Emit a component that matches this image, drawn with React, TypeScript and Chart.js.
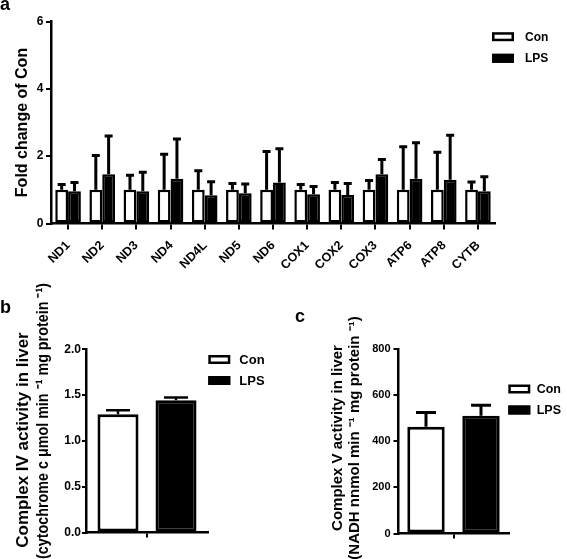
import React, { useEffect, useRef, useState } from "react";
import { Chart, registerables } from "chart.js";

Chart.register(...registerables);

const FONT = '"Liberation Sans", Arial, Helvetica, sans-serif';

// ---------- Panel a: mtDNA-encoded gene expression ----------
const genes = ["ND1", "ND2", "ND3", "ND4", "ND4L", "ND5", "ND6", "COX1", "COX2", "COX3", "ATP6", "ATP8", "CYTB"];
const conFold = [1, 1, 1, 1, 1, 1, 1, 1, 1, 1, 1, 1, 1];
const conFoldErr = [0.16, 1.02, 0.43, 1.06, 0.57, 0.19, 1.14, 0.16, 0.22, 0.28, 1.28, 1.12, 0.23];
const lpsFold = [0.96, 1.46, 0.96, 1.33, 0.84, 0.9, 1.22, 0.87, 0.85, 1.46, 1.33, 1.3, 0.96];
const lpsFoldErr = [0.26, 1.14, 0.56, 1.18, 0.4, 0.27, 1.0, 0.23, 0.34, 0.44, 1.07, 1.32, 0.43];
const foldTicks = [0, 2, 4, 6];

// ---------- Panel b: Complex IV activity ----------
const complexIVCon = [1.29];
const complexIVConErr = [0.045];
const complexIVLps = [1.445];
const complexIVLpsErr = [0.03];
const complexIVTicks = [0, 0.5, 1.0, 1.5, 2.0];

// ---------- Panel c: Complex V activity ----------
const complexVCon = [464];
const complexVConErr = [62];
const complexVLps = [511];
const complexVLpsErr = [46];
const complexVTicks = [0, 200, 400, 600, 800];

const seriesLabels = ["Con", "LPS"];

function errorBarPlugin(capWidth: number, lineWidth: number) {
  return {
    id: "errorBars",
    afterDatasetsDraw(chart: any) {
      const ctx = chart.ctx;
      const y = chart.scales.y;
      chart.data.datasets.forEach((ds: any, di: number) => {
        if (!ds.errors) return;
        const meta = chart.getDatasetMeta(di);
        meta.data.forEach((el: any, i: number) => {
          const v = ds.data[i];
          const e = ds.errors[i];
          const yTop = y.getPixelForValue(v + e);
          ctx.save();
          ctx.strokeStyle = "#000";
          ctx.lineWidth = lineWidth;
          ctx.lineCap = "butt";
          ctx.beginPath();
          ctx.moveTo(el.x, el.y);
          ctx.lineTo(el.x, yTop - lineWidth / 2);
          ctx.moveTo(el.x - capWidth / 2, yTop);
          ctx.lineTo(el.x + capWidth / 2, yTop);
          ctx.stroke();
          ctx.restore();
        });
      });
    },
  };
}

function boxLegendPlugin(x: number, y0: number, rowGap: number, boxW: number, boxH: number, textX: number, fontSize: number) {
  return {
    id: "boxLegend",
    afterDraw(chart: any) {
      const ctx = chart.ctx;
      chart.data.datasets.forEach((ds: any, i: number) => {
        const cy = y0 + i * rowGap;
        ctx.save();
        ctx.fillStyle = ds.backgroundColor;
        ctx.fillRect(x, cy - boxH / 2, boxW, boxH);
        ctx.lineWidth = 2.5;
        ctx.strokeStyle = "#000";
        ctx.strokeRect(x + 1.25, cy - boxH / 2 + 1.25, boxW - 2.5, boxH - 2.5);
        ctx.fillStyle = "#000";
        ctx.font = `bold ${fontSize}px ${FONT}`;
        ctx.textAlign = "left";
        ctx.textBaseline = "middle";
        ctx.fillText(ds.label, textX, cy + 0.5);
        ctx.restore();
      });
    },
  };
}

type TitleLine = { text: string; x: number; cy: number; maxWidth?: number };

function yTitlePlugin(lines: TitleLine[], fontSize: number) {
  return {
    id: "yTitleLines",
    afterDraw(chart: any) {
      const ctx = chart.ctx;
      lines.forEach((ln) => {
        ctx.save();
        ctx.fillStyle = "#000";
        ctx.font = `bold ${fontSize}px ${FONT}`;
        ctx.textAlign = "center";
        ctx.textBaseline = "middle";
        ctx.translate(ln.x, ln.cy);
        ctx.rotate(-Math.PI / 2);
        if (ln.maxWidth) ctx.fillText(ln.text, 0, 0, ln.maxWidth);
        else ctx.fillText(ln.text, 0, 0);
        ctx.restore();
      });
    },
  };
}

function axisCommon(tickSize: number, tickLen: number, pad: number) {
  return {
    grid: { display: true, drawOnChartArea: false, tickLength: tickLen, color: "#000", lineWidth: 2 },
    border: { display: true, color: "#000", width: 2.5 },
    ticks: { color: "#000", padding: pad, font: { family: FONT, size: tickSize, weight: "bold" } },
  };
}

function buildA() {
  const ax = axisCommon(12, 6, 2);
  const ay = axisCommon(12, 5, 2.5);
  return {
    type: "bar",
    data: {
      labels: genes,
      datasets: [
        { label: seriesLabels[0], data: conFold, errors: conFoldErr, backgroundColor: "#ffffff", borderColor: "#000", borderWidth: 2.5, borderSkipped: false },
        { label: seriesLabels[1], data: lpsFold, errors: lpsFoldErr, backgroundColor: "#000000", borderColor: "#000", borderWidth: 2.5, borderSkipped: false },
      ],
    },
    options: {
      animation: false,
      responsive: false,
      devicePixelRatio: 1,
      events: [],
      layout: { padding: { top: 21.5, right: 72, bottom: 0, left: 0 } },
      datasets: { bar: { categoryPercentage: 0.75, barPercentage: 1.0 } },
      plugins: { legend: { display: false }, tooltip: { enabled: false } },
      scales: {
        x: {
          ...ax,
          offset: true,
          grid: { ...ax.grid, offset: false },
          ticks: { ...ax.ticks, display: false, autoSkip: false },
          afterFit: (s: any) => { s.height = 76.5; },
        },
        y: {
          ...ay,
          min: foldTicks[0],
          max: foldTicks[foldTicks.length - 1],
          ticks: { ...ay.ticks, stepSize: foldTicks[1] - foldTicks[0] },
          title: { display: true, text: "Fold change of Con", color: "#000", font: { family: FONT, size: 16, weight: "bold" }, padding: { top: 13, bottom: 0 } },
          afterFit: (s: any) => { s.width = 51; },
        },
      },
    },
    plugins: [errorBarPlugin(8, 3), boxLegendPlugin(492, 36.7, 21.6, 22, 9, 525, 12)],
  };
}

function buildSmall(opts: {
  con: number[]; conErr: number[]; lps: number[]; lpsErr: number[]; ticks: number[]; decimals: number;
  padTop: number; padRight: number; axisWidth: number; xHeight: number; tickSize: number; tickLen: number; tickPad: number;
  cp: number; bp: number; border: number; capW: number; errLW: number;
  legend: any; title: any;
}) {
  const ax = axisCommon(opts.tickSize, 5, 2);
  const ay = axisCommon(opts.tickSize, opts.tickLen, opts.tickPad);
  const t = opts.ticks;
  return {
    type: "bar",
    data: {
      labels: [""],
      datasets: [
        { label: seriesLabels[0], data: opts.con, errors: opts.conErr, backgroundColor: "#ffffff", borderColor: "#000", borderWidth: opts.border, borderSkipped: false },
        { label: seriesLabels[1], data: opts.lps, errors: opts.lpsErr, backgroundColor: "#000000", borderColor: "#000", borderWidth: opts.border, borderSkipped: false },
      ],
    },
    options: {
      animation: false,
      responsive: false,
      devicePixelRatio: 1,
      events: [],
      layout: { padding: { top: opts.padTop, right: opts.padRight, bottom: 0, left: 0 } },
      datasets: { bar: { categoryPercentage: opts.cp, barPercentage: opts.bp } },
      plugins: { legend: { display: false }, tooltip: { enabled: false } },
      scales: {
        x: {
          ...ax,
          offset: true,
          grid: { ...ax.grid, offset: false },
          afterFit: (s: any) => { s.height = opts.xHeight; },
        },
        y: {
          ...ay,
          min: t[0],
          max: t[t.length - 1],
          ticks: { ...ay.ticks, stepSize: t[1] - t[0], callback: (v: any) => Number(v).toFixed(opts.decimals) },
          afterFit: (s: any) => { s.width = opts.axisWidth; },
        },
      },
    },
    plugins: [errorBarPlugin(opts.capW, opts.errLW), opts.legend, opts.title],
  };
}

function buildB() {
  return buildSmall({
    con: complexIVCon, conErr: complexIVConErr, lps: complexIVLps, lpsErr: complexIVLpsErr, ticks: complexIVTicks, decimals: 1,
    padTop: 84.3, padRight: 82, axisWidth: 86, xHeight: 26.5, tickSize: 12, tickLen: 4, tickPad: 1,
    cp: 0.951, bp: 0.707, border: 3, capW: 24, errLW: 2.5,
    legend: boxLegendPlugin(208.3, 94.5, 21, 22, 9, 239.3, 13),
    title: yTitlePlugin(
      [
        { text: "Complex IV activity in liver", x: 23, cy: 175 },
        { text: "(cytochrome c \u03BCmol min \u207B\u00B9 mg protein \u207B\u00B9)", x: 43, cy: 156, maxWidth: 276 },
      ],
      17
    ),
  });
}

function buildC() {
  return buildSmall({
    con: complexVCon, conErr: complexVConErr, lps: complexVLps, lpsErr: complexVLpsErr, ticks: complexVTicks, decimals: 0,
    padTop: 84.3, padRight: 58.5, axisWidth: 108.5, xHeight: 25.5, tickSize: 11, tickLen: 5, tickPad: 3,
    cp: 1.0, bp: 0.68, border: 3, capW: 20, errLW: 3,
    legend: boxLegendPlugin(218.3, 124, 21, 22, 9, 246.7, 12.5),
    title: yTitlePlugin(
      [
        { text: "Complex V activity in liver", x: 47.5, cy: 173 },
        { text: "(NADH nnmol min \u207B\u00B9 mg protein \u207B\u00B9)", x: 64.5, cy: 173 },
      ],
      15
    ),
  });
}

type RotLabel = { text: string; x: number; y: number };

function ChartCanvas(props: {
  left: number; top: number; width: number; height: number; build: () => any;
  rotated?: { fontSize: number; dy: number };
}) {
  const ref = useRef<HTMLCanvasElement>(null);
  const [labels, setLabels] = useState<RotLabel[]>([]);
  useEffect(() => {
    const chart: any = new Chart(ref.current as HTMLCanvasElement, props.build());
    if (props.rotated) {
      const xs = chart.scales.x;
      const out: RotLabel[] = (chart.data.labels as string[]).map((text, i) => ({
        text,
        x: props.left + xs.getPixelForTick(i),
        y: props.top + xs.top + props.rotated!.dy,
      }));
      setLabels(out);
    }
    return () => chart.destroy();
  }, []);
  const fs = props.rotated ? props.rotated.fontSize : 12;
  return (
    <>
      <canvas
        ref={ref}
        width={props.width}
        height={props.height}
        style={{ position: "absolute", left: props.left, top: props.top, width: props.width, height: props.height }}
      />
      {labels.map((l, i) => (
        <div
          key={i}
          style={{
            position: "absolute",
            left: l.x - 100,
            top: l.y - fs / 2,
            width: 100,
            height: fs,
            lineHeight: `${fs}px`,
            fontSize: fs,
            fontFamily: FONT,
            fontWeight: "bold",
            color: "#000",
            textAlign: "right",
            whiteSpace: "nowrap",
            transformOrigin: "100% 50%",
            transform: "rotate(-45deg)",
          }}
        >
          {l.text}
        </div>
      ))}
    </>
  );
}

const letterStyle: React.CSSProperties = {
  position: "absolute",
  fontFamily: FONT,
  fontWeight: "bold",
  fontSize: 18,
  lineHeight: "18px",
  color: "#000",
};

export default function App() {
  return (
    <div style={{ position: "absolute", left: 0, top: 0, width: 567, height: 559, background: "#fff", overflow: "hidden" }}>
      <ChartCanvas left={0} top={0} width={567} height={300} build={buildA} rotated={{ fontSize: 12.5, dy: 19.5 }} />
      <ChartCanvas left={0} top={265} width={290} height={294} build={buildB} />
      <ChartCanvas left={290} top={265} width={277} height={294} build={buildC} />
      <div style={{ ...letterStyle, left: 0, top: -5 }}>a</div>
      <div style={{ ...letterStyle, left: 0, top: 298 }}>b</div>
      <div style={{ ...letterStyle, left: 295, top: 307 }}>c</div>
    </div>
  );
}
